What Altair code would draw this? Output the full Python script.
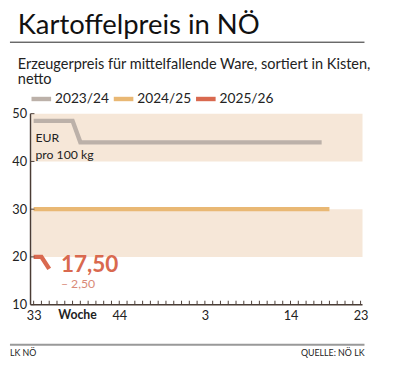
import altair as alt
import pandas as pd

# ---- data ----
series = ["2023/24", "2024/25", "2025/26"]
colors = ["#bcb1a9", "#e9b874", "#d9694f"]

idx_2324 = [0, 5, 6, 37]
val_2324 = [48.5, 48.5, 44.0, 44.0]
idx_2425 = [0, 38]
val_2425 = [30.0, 30.0]
idx_2526 = [0, 1, 2]
val_2526 = [20.0, 20.0, 17.5]

band_lo = [40, 20]
band_hi = [50, 30]

label_idx = [0, 11, 22, 33, 42]   # week 33, 44, 3, 14, 23
all_idx = list(range(43))
y_ticks = [10, 20, 30, 40, 50]

FONT = "Lato"
W, H = 339, 195

rows = []
for s, xs, vs in zip(series, [idx_2324, idx_2425, idx_2526], [val_2324, val_2425, val_2526]):
    for i, v in zip(xs, vs):
        rows.append({"serie": s, "idx": i, "wert": v})
lines_df = pd.DataFrame(rows)
bands_df = pd.DataFrame({"lo": band_lo, "hi": band_hi})
ticks_df = pd.DataFrame({"idx": all_idx})
yt_df = pd.DataFrame({"y": y_ticks})

xscale = alt.Scale(domain=[-0.4, 42.25], nice=False, zero=False)
yscale = alt.Scale(domain=[10, 50], nice=False, zero=False)
AX = "#4a3c35"

yaxis = alt.Axis(values=y_ticks, tickSize=0, domain=False, grid=False, title=None,
                 labelFont=FONT, labelFontSize=13, labelColor="#222", labelPadding=4)
xaxis = alt.Axis(values=label_idx, tickSize=0, domain=False, grid=False, title=None,
                 labelExpr="(datum.value + 32) % 52 + 1", labelFont=FONT, labelFontSize=13,
                 labelColor="#222", labelPadding=5, labelFlush=False)

bands = alt.Chart(bands_df).mark_rect(color="#f6e7d8").encode(
    x=alt.value(1), x2=alt.value(W),
    y=alt.Y("lo:Q", scale=yscale, axis=yaxis), y2="hi:Q")

lines = alt.Chart(lines_df).mark_line(strokeWidth=4.5, strokeCap="butt", strokeJoin="miter").encode(
    x=alt.X("idx:Q", scale=xscale, axis=xaxis),
    y=alt.Y("wert:Q", scale=yscale, axis=yaxis),
    color=alt.Color("serie:N", scale=alt.Scale(domain=series, range=colors), legend=None),
    detail="serie:N")

xticks = alt.Chart(ticks_df).mark_rule(color=AX, strokeWidth=1).encode(
    x=alt.X("idx:Q", scale=xscale, axis=xaxis), y=alt.value(H), y2=alt.value(H - 4))
yticks = alt.Chart(yt_df).mark_rule(color=AX, strokeWidth=1).encode(
    y=alt.Y("y:Q", scale=yscale, axis=yaxis), x=alt.value(0), x2=alt.value(4))
xdomain = alt.Chart(ticks_df.head(1)).mark_rule(color=AX, strokeWidth=1.5).encode(
    x=alt.value(0), x2=alt.value(W), y=alt.value(H))
ydomain = alt.Chart(ticks_df.head(1)).mark_rule(color=AX, strokeWidth=1.5).encode(
    x=alt.value(0), y=alt.value(0), y2=alt.value(H))

def txt(text, x, y, size, color="#222", weight="normal", align="left", baseline="alphabetic"):
    return alt.Chart(pd.DataFrame({"t": [text]})).mark_text(
        font=FONT, fontSize=size, color=color, fontWeight=weight, align=align, baseline=baseline
    ).encode(text="t:N", x=alt.value(x), y=alt.value(y))

def rule(x1, x2, y, color, w):
    return alt.Chart(pd.DataFrame({"a": [0]})).mark_rule(color=color, strokeWidth=w).encode(
        x=alt.value(x1), x2=alt.value(x2), y=alt.value(y))

layers = [bands, lines, xticks, yticks, xdomain, ydomain,
          txt("Kartoffelpreis in NÖ", -13, -81, 28, "#111"),
          rule(-21, 341, -73, "#222", 1),
          txt("Erzeugerpreis für mittelfallende Ware, sortiert in Kisten,", -13, -46, 14.8, "#222"),
          txt("netto", -13, -30, 14.8, "#222"),
          txt("EUR", 5, 29, 12.5, "#222"),
          txt("pro 100 kg", 5, 46, 12.5, "#222"),
          txt("17,50", 31, 162, 23, "#d9694f", "bold"),
          txt("\u2013 2,50", 31, 178, 12.5, "#d98a78"),
          txt("Woche", 48, 210, 12.5, "#222", "bold", "center"),
          rule(-21, 341, 236, "#999", 2),
          txt("LK NÖ", -21, 247, 9, "#222"),
          txt("QUELLE: NÖ LK", 341, 247, 9, "#222", align="right")]

# legend
lx = [1, 85, 169]
for s, c, x0 in zip(series, colors, lx):
    layers.append(rule(x0, x0 + 20, -15, c, 4.5))
    layers.append(txt(s, x0 + 24, -15, 14, "#222", baseline="middle"))

chart = alt.layer(*layers).properties(
    width=W, height=H,
    autosize=alt.AutoSizeParams(type="none"),
    padding={"left": 23, "top": 104, "right": 25, "bottom": 72},
).configure_view(stroke=None)

chart.save("out.html", embed_options={"renderer": "svg", "actions": False})
